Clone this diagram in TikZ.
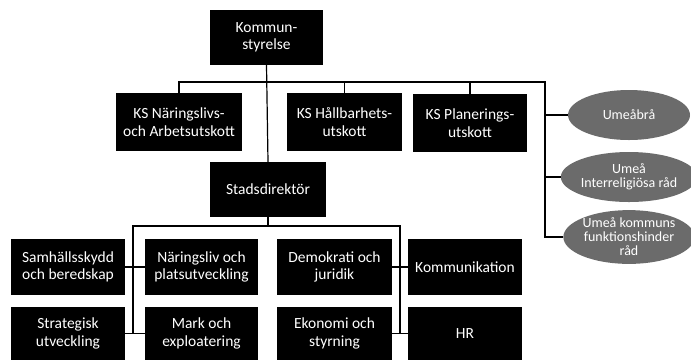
\documentclass[tikz,border=0pt]{standalone}
\usepackage{fontspec}
\setmainfont{Carlito}
\usetikzlibrary{shapes.geometric}
\begin{document}
\begin{tikzpicture}[x=1pt,y=-1pt,
    box/.style={fill=black,text=white,align=center,inner sep=2pt,
      minimum width=114pt,minimum height=56pt,font=\fontsize{15.5}{17.5}\selectfont},
    oval/.style={ellipse,fill=black!58,text=white,align=center,inner sep=0pt,
      minimum width=122pt,minimum height=50pt,font=\fontsize{14}{14}\selectfont},
    link/.style={draw=black,line width=1.2pt}]
  \useasboundingbox (0,0) rectangle (691,360);
  % top level
  \node[box,minimum width=113pt,minimum height=55pt] (ks) at (266.5,37.5) {Kommun-\\styrelse};
  \node[box,minimum width=126pt,minimum height=58pt] (kn) at (179,122) {KS Näringslivs-\\och Arbetsutskott};
  \node[box,minimum width=115pt,minimum height=58pt] (kh) at (344.5,122) {KS Hållbarhets-\\utskott};
  \node[box,minimum width=114pt,minimum height=58pt] (kp) at (470,123) {KS Planerings-\\utskott};
  \node[box,minimum width=116pt,minimum height=55pt] (sd) at (268,189.5) {Stadsdirektör};
  % councils
  \node[oval] (e1) at (629,115) {Umeåbrå};
  \node[oval] (e2) at (629,177) {Umeå\\Interreligiösa råd};
  \node[oval,minimum height=52pt] (e3) at (629,237) {Umeå kommuns\\funktionshinder\\råd};
  % departments
  \node[box] (sam) at (68,267) {Samhällsskydd\\och beredskap};
  \node[box,minimum width=113pt] (nar) at (201.5,267) {Näringsliv och\\platsutveckling};
  \node[box,minimum width=115pt] (dem) at (334.5,267) {Demokrati och\\juridik};
  \node[box] (kom) at (465,267) {Kommunikation};
  \node[box,minimum height=53pt] (str) at (68,333.5) {Strategisk\\utveckling};
  \node[box,minimum width=113pt,minimum height=53pt] (mark) at (201.5,333.5) {Mark och\\exploatering};
  \node[box,minimum width=115pt,minimum height=53pt] (eko) at (334.5,333.5) {Ekonomi och\\styrning};
  \node[box,minimum height=53pt] (hr) at (465,333.5) {HR};
  % connectors
  \coordinate (busR) at (545,82);
  \coordinate (lbus) at (133,226);
  \coordinate (rbus) at (400,226);
  \draw[link] (ks.south) -- (sd.north);
  \draw[link] (kn.north) |- (busR) |- (e3.west);
  \draw[link] (kh.north) -- (kh.north |- busR);
  \draw[link] (kp.north) -- (kp.north |- busR);
  \draw[link] (e1.west) -- (e1.west -| busR);
  \draw[link] (e2.west) -- (e2.west -| busR);
  \draw[link] (sd.south) -- (sd.south |- lbus);
  \draw[link] (lbus |- str.east) -- (lbus) -- (rbus) -- (rbus |- eko.east);
  \draw[link] (sam.east) -- (nar.west);
  \draw[link] (str.east) -- (mark.west);
  \draw[link] (dem.east) -- (kom.west);
  \draw[link] (eko.east) -- (hr.west);
\end{tikzpicture}
\end{document}
